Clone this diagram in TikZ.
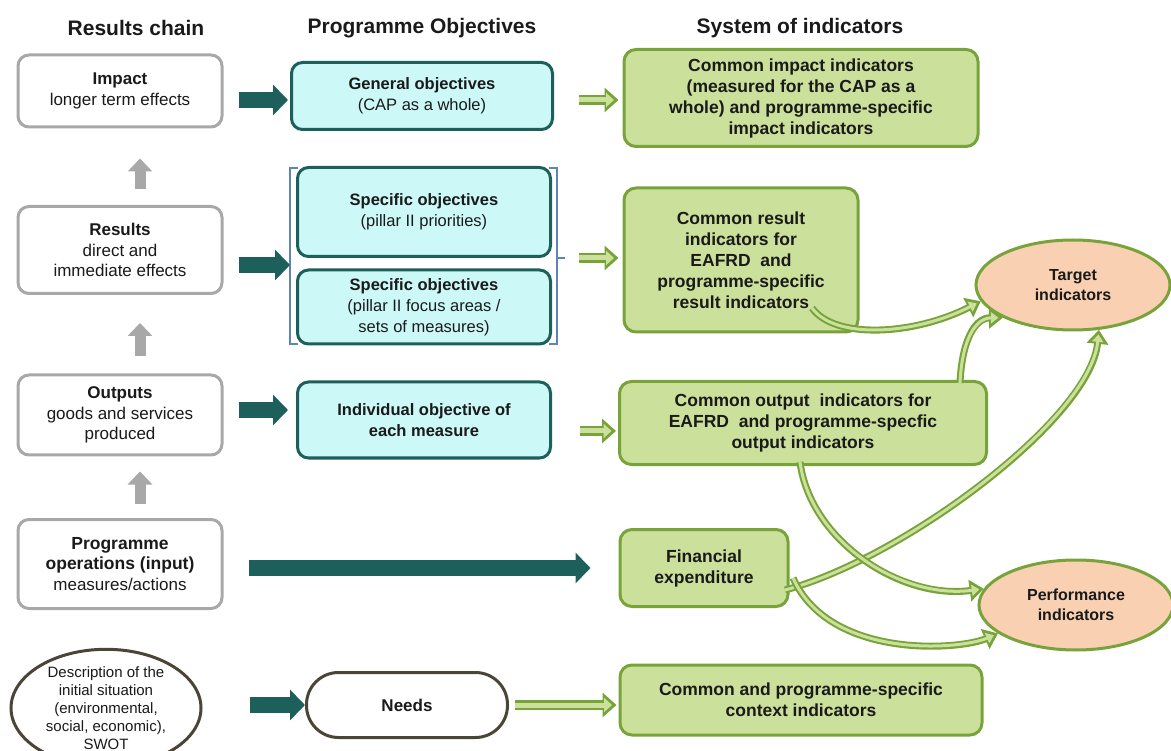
\documentclass[tikz,border=0pt]{standalone}
\usepackage{fontspec}
\setmainfont{Liberation Sans}
\usetikzlibrary{arrows.meta,shapes.geometric,calc}
\definecolor{teal1}{HTML}{1D5F5A}
\definecolor{tealfill}{HTML}{CDF8F8}
\definecolor{grn}{HTML}{77A33A}
\definecolor{grnfill}{HTML}{CBE09A}
\definecolor{peach}{HTML}{F9D0B2}
\definecolor{grayb}{HTML}{A8A8A8}
\definecolor{darkol}{HTML}{4A4536}
\definecolor{brk}{HTML}{6083B5}
\definecolor{txt}{HTML}{1A1A1A}
\tikzset{
  base/.style={align=center, text=txt, inner sep=2pt},
  graybox/.style={base, draw=grayb, line width=3pt, rounded corners=11pt, fill=white, font=\fontsize{17}{20.5}\selectfont},
  tealbox/.style={base, draw=teal1, line width=3pt, rounded corners=11pt, fill=tealfill, font=\fontsize{16.5}{21}\selectfont},
  greenbox/.style={base, draw=grn, line width=3pt, rounded corners=12pt, fill=grnfill, font=\bfseries\fontsize{17.5}{21}\selectfont},
  indoval/.style={base, ellipse, draw=grn, line width=3pt, fill=peach, font=\bfseries\fontsize{16}{20}\selectfont},
  title/.style={font=\bfseries\fontsize{21}{24}\selectfont, text=txt},
  darkarrow/.style={teal1, line width=16pt, -{Triangle[length=15pt,width=30pt]}},
  grayarrow/.style={grayb, line width=11pt, -{Triangle[length=13pt,width=24pt]}},
  gout/.style={grn, line width=10pt, -{Triangle[length=14pt,width=24pt]}},
  gin/.style={grnfill, line width=5pt, shorten >=4.5pt, -{Triangle[length=8pt,width=14pt]}},
  cout/.style={grn, line width=7pt, -{Triangle[length=14pt,width=21pt]}},
  cin/.style={grnfill, line width=3pt, shorten >=4.5pt, -{Triangle[length=7.5pt,width=11pt]}},
}
\newcommand\garr[1]{\draw[gout] #1; \draw[gin] #1;}
\newcommand\carr[1]{\draw[cout] #1; \draw[cin] #1;}
\begin{document}
\begin{tikzpicture}[x=1pt,y=-1pt]
\useasboundingbox (0,0) rectangle (1171,751);
% titles
\node[title] (t1) at (136,28) {Results chain};
\node[title] (t2) at (422,28) {Programme Objectives};
\node[title] (t3) at (800,28) {System of indicators};
% results chain
\node[graybox, minimum width=204pt, minimum height=72pt] (impact) at (120,91) {\textbf{Impact}\\longer term effects};
\node[graybox, minimum width=204pt, minimum height=87pt] (results) at (120,250) {\textbf{Results}\\direct and\\immediate effects};
\node[graybox, minimum width=204pt, minimum height=80pt] (outputs) at (120,415) {\textbf{Outputs}\\goods and services\\produced};
\node[graybox, minimum width=204pt, minimum height=89pt] (ops) at (120,564) {\textbf{\fontsize{17.5}{21}\selectfont Programme}\\\textbf{\fontsize{17.5}{21}\selectfont operations (input)}\\measures/actions};
\node[base, ellipse, draw=darkol, line width=3pt, fill=white, minimum width=190pt, minimum height=96pt, inner sep=0pt, font=\fontsize{15}{18}\selectfont] (desc) at (106,708) {Description of the\\initial situation\\(environmental,\\social, economic),\\SWOT};
% objectives
\node[tealbox, minimum width=261pt, minimum height=67pt] (gen) at (422,96) {\textbf{General objectives}\\(CAP as a whole)};
\node[tealbox, minimum width=253pt, minimum height=89pt] (spec1) at (424,212) {\textbf{Specific objectives}\\(pillar II priorities)};
\node[tealbox, minimum width=253pt, minimum height=74pt] (spec2) at (424,307) {\textbf{Specific objectives}\\(pillar II focus areas /\\sets of measures)};
\node[tealbox, minimum width=253pt, minimum height=76pt] (indiv) at (424,420) {\textbf{Individual objective of}\\\textbf{each measure}};
\node[base, draw=darkol, line width=3pt, fill=white, rounded corners=32pt, minimum width=201pt, minimum height=65pt, font=\bfseries\fontsize{17}{20}\selectfont] (needs) at (407,705) {Needs};
% brackets
\coordinate (bl) at (290,265);
\coordinate (br) at (557,258);
\draw[brk, line width=2.5pt] (298,168) -- (290,168) -- (290,344) -- (298,344);
\draw[brk, line width=2.5pt] (549,168) -- (557,168) -- (557,344) -- (549,344);
\draw[brk, line width=2.5pt] (br) -- ++(8,0);
% indicators
\node[greenbox, minimum width=354pt, minimum height=97pt] (cimp) at (801,98) {Common impact indicators\\(measured for the CAP as a\\whole) and programme-specific\\impact indicators};
\node[greenbox, minimum width=234pt, minimum height=144pt] (cres) at (741,260) {Common result\\indicators for\\EAFRD\ \ and\\programme-specific\\result indicators};
\node[greenbox, minimum width=367pt, minimum height=83pt] (cout) at (803,423) {Common output\ \ indicators for\\EAFRD\ \ and programme-specfic\\output indicators};
\node[greenbox, minimum width=168pt, minimum height=77pt] (fin) at (704,568) {Financial\\expenditure};
\node[greenbox, minimum width=362pt, minimum height=70pt] (ctx) at (801,700) {Common and programme-specific\\context indicators};
\node[indoval, minimum width=194pt, minimum height=90pt, inner sep=0pt] (target) at (1073,285) {Target\\indicators};
\node[indoval, minimum width=194pt, minimum height=90pt, inner sep=0pt] (perf) at (1076,605) {Performance\\indicators};
% gray up arrows
\draw[grayarrow] ($(results.north)+(20,-16)$) -- ($(impact.south)+(20,30)$);
\draw[grayarrow] ($(outputs.north)+(20,-17)$) -- ($(results.south)+(20,28)$);
\draw[grayarrow] ($(ops.north)+(20,-14)$) -- ($(outputs.south)+(20,15)$);
% dark arrows
\draw[darkarrow] ($(impact.east)+(15,9)$) -- ($(gen.west)+(-2,4)$);
\draw[darkarrow] ($(results.east)+(15,15)$) -- (bl);
\draw[darkarrow] ($(outputs.east)+(15,-5)$) -- ($(indiv.west)+(-8,-10)$);
\draw[darkarrow] ($(ops.east)+(25,4)$) -- ($(fin.west)+(-28,0)$);
\draw[darkarrow] ($(desc.east)+(47,-3)$) -- (needs.west);
% green straight arrows
\garr{($(gen.east)+(25,4)$) -- ($(cimp.west)+(-4,2)$)}
\garr{($(br)+(22,0)$) -- ($(cres.west)+(-4,-2)$)}
\garr{($(indiv.east)+(28,11)$) -- ($(cout.west)+(-2,8)$)}
\garr{($(needs.east)+(6,0)$) -- ($(ctx.west)+(-2,5)$)}
% curved arrows
\coordinate (s1) at (812,308);
\coordinate (s2) at (960,383);
\coordinate (s3) at (785,590);
\coordinate (s4) at (800,462);
\coordinate (s5) at (793,578);
\carr{(s1) .. controls (835,340) and (915,335) .. (target.190)}
\carr{(s2) .. controls (962,340) and (975,318) .. (target.205)}
\carr{(s3) .. controls (900,560) and (1090,420) .. (target.300)}
\carr{(s4) .. controls (810,540) and (900,600) .. (perf.170)}
\carr{(s5) .. controls (830,660) and (960,650) .. (perf.200)}
\end{tikzpicture}
\end{document}
